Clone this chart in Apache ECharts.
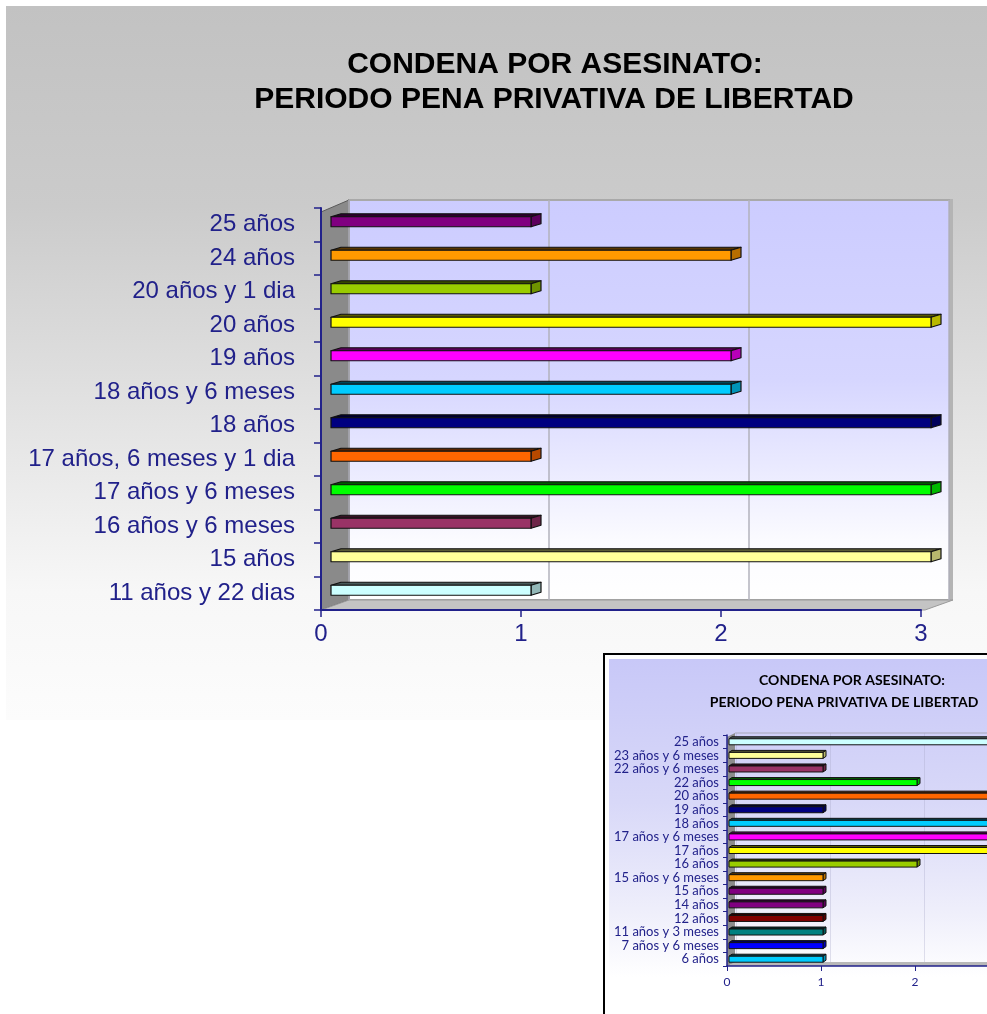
<!DOCTYPE html>
<html>
<head>
<meta charset="utf-8">
<script src="https://cdn.jsdelivr.net/npm/echarts@6/dist/echarts.min.js"></script>
<style>
  html, body { margin: 0; padding: 0; background: #ffffff; }
  #chart { width: 987px; height: 1014px; }
</style>
</head>
<body>
<div id="chart"></div>
<script>
// Main chart: sentence length categories (top to bottom) and number of cases
const mainCategories = [
  '25 años', '24 años', '20 años y 1 dia', '20 años', '19 años',
  '18 años y 6 meses', '18 años', '17 años, 6 meses y 1 dia',
  '17 años y 6 meses', '16 años y 6 meses', '15 años', '11 años y 22 dias'
];
const mainValues = [1, 2, 1, 3, 2, 2, 3, 1, 3, 1, 3, 1];
const mainColors = [
  '#800080', '#ff9900', '#99cc00', '#ffff00', '#ff00ff', '#00ccff',
  '#000080', '#ff6600', '#00ff00', '#993366', '#ffff99', '#ccffff'
];

// Second (smaller) chart
const insetCategories = [
  '25 años', '23 años y 6 meses', '22 años y 6 meses', '22 años', '20 años',
  '19 años', '18 años', '17 años y 6 meses', '17 años', '16 años',
  '15 años y 6 meses', '15 años', '14 años', '12 años', '11 años y 3 meses',
  '7 años y 6 meses', '6 años'
];
const insetValues = [3, 1, 1, 2, 3, 1, 3, 3, 3, 2, 1, 1, 1, 1, 1, 1, 1];
const insetColors = [
  '#ccffff', '#ffff99', '#993366', '#00ff00', '#ff6600', '#000080',
  '#00ccff', '#ff00ff', '#ffff00', '#99cc00', '#ff9900', '#800080',
  '#800080', '#800000', '#008080', '#0000ff', '#00ccff'
];

// Value axis ticks
const valueTicks = [0, 1, 2, 3];

const titleLine1 = 'CONDENA POR ASESINATO:';
const titleLine2 = 'PERIODO PENA PRIVATIVA DE LIBERTAD';

const NAVY = '#21218a';
const AXMIN = valueTicks[0];
const AXMAX = valueTicks[valueTicks.length - 1];
const AXSTEP = valueTicks[1] - valueTicks[0];

function shade(hex, f) {
  const n = parseInt(hex.slice(1), 16);
  const r = Math.round(((n >> 16) & 255) * f);
  const g = Math.round(((n >> 8) & 255) * f);
  const b = Math.round((n & 255) * f);
  return 'rgb(' + r + ',' + g + ',' + b + ')';
}

// Draws a bar as a small 3D box: front face, dark top face, shaded end cap
function makeBar3D(colors, geo) {
  return function (params, api) {
    const idx = api.value(1);
    const v = api.value(0);
    const p0 = api.coord([0, idx]);
    const p1 = api.coord([v, idx]);
    const x0 = p0[0] + geo.shiftX;
    const x1 = p1[0] + geo.shiftX;
    const yc = p0[1] + geo.shiftY;
    const yT = yc - geo.h / 2;
    const yB = yc + geo.h / 2;
    const dx = geo.dx, dy = geo.dy;
    const c = colors[params.dataIndex];
    const line = { stroke: '#111111', lineWidth: geo.lw, lineJoin: 'round' };
    return {
      type: 'group',
      children: [
        { type: 'polygon',
          shape: { points: [[x0, yT], [x0 + dx, yT - dy], [x1 + dx, yT - dy], [x1, yT]] },
          style: Object.assign({ fill: shade(c, 0.35) }, line) },
        { type: 'polygon',
          shape: { points: [[x1, yT], [x1 + dx, yT - dy], [x1 + dx, yB - dy], [x1, yB]] },
          style: Object.assign({ fill: shade(c, 0.72) }, line) },
        { type: 'rect',
          shape: { x: x0, y: yT, width: x1 - x0, height: geo.h },
          style: Object.assign({ fill: c }, line) }
      ]
    };
  };
}

function vgrad(stops) {
  return {
    type: 'linear', x: 0, y: 0, x2: 0, y2: 1,
    colorStops: stops.map(s => ({ offset: s[0], color: s[1] }))
  };
}

const chart = echarts.init(document.getElementById('chart'), null, { renderer: 'canvas' });

const bigTitle = {
  fontFamily: 'Liberation Sans', fontSize: 30, fontWeight: 'bold', color: '#000000'
};
const smallTitle = {
  fontFamily: 'Lato', fontSize: 14, fontWeight: 'bold', color: '#000000'
};

const option = {
  animation: false,
  backgroundColor: '#ffffff',
  title: [
    { text: titleLine1, left: 550, top: 45, textAlign: 'center', textStyle: bigTitle },
    { text: titleLine2, left: 549, top: 80, textAlign: 'center', textStyle: bigTitle },
    { text: titleLine1, left: 847, top: 668, textAlign: 'center', textStyle: smallTitle },
    { text: titleLine2, left: 839, top: 690, textAlign: 'center', textStyle: smallTitle }
  ],
  graphic: {
    elements: [
      // page background of the main chart
      { type: 'rect', z: -5, shape: { x: 6, y: 6, width: 990, height: 714 },
        style: { fill: vgrad([[0, '#c2c2c2'], [0.28, '#cbcbcb'], [0.82, '#f7f7f7'], [1, '#fcfcfc']]) } },
      // main back wall
      { type: 'rect', z: -4, shape: { x: 349, y: 200, width: 601, height: 400 },
        style: { fill: vgrad([[0, '#ccccff'], [0.45, '#d6d6ff'], [0.85, '#fbfbff'], [1, '#ffffff']]),
                 stroke: '#a9a9a9', lineWidth: 2 } },
      // main right edge
      { type: 'polygon', z: -4, shape: { points: [[950, 199], [953, 199], [953, 600], [950, 600]] },
        style: { fill: '#b4b4b4' } },
      // main left wall
      { type: 'polygon', z: -3, shape: { points: [[321, 212], [349, 200], [349, 600], [321, 610]] },
        style: { fill: '#8a8a8a', stroke: '#5a5a5a', lineWidth: 1 } },
      // main floor
      { type: 'polygon', z: -3, shape: { points: [[321, 610], [349, 600], [953, 600], [925, 610]] },
        style: { fill: '#c4c4c4', stroke: '#9a9a9a', lineWidth: 1 } },

      // second chart frame and background
      { type: 'rect', z: -5, shape: { x: 604, y: 654, width: 400, height: 400 },
        style: { fill: '#ffffff', stroke: '#000000', lineWidth: 2 } },
      { type: 'rect', z: -4, shape: { x: 609, y: 659, width: 390, height: 318 },
        style: { fill: vgrad([[0, '#c8c8f8'], [0.45, '#d8d8f8'], [0.8, '#efeffb'], [1, '#ffffff']]) } },
      // second chart back wall top edge
      { type: 'line', z: -3, shape: { x1: 735, y1: 733, x2: 1000, y2: 733 },
        style: { stroke: '#a8a8b8', lineWidth: 1 } },
      // second chart left wall
      { type: 'polygon', z: -3, shape: { points: [[727, 737], [735, 733], [735, 963], [727, 966]] },
        style: { fill: '#8c8c8c' } },
      // second chart floor
      { type: 'polygon', z: -3, shape: { points: [[727, 966], [735, 962], [1000, 962], [1000, 966]] },
        style: { fill: '#b8b8b8' } }
    ]
  },
  grid: [
    { left: 321, top: 208, width: 600, height: 402, outerBoundsMode: 'none' },
    { left: 349, top: 200, width: 600, height: 400, outerBoundsMode: 'none' },
    { left: 727, top: 735, width: 282, height: 231, outerBoundsMode: 'none' },
    { left: 736, top: 733, width: 282, height: 229, outerBoundsMode: 'none' }
  ],
  xAxis: [
    {
      gridIndex: 0, type: 'value', min: AXMIN, max: AXMAX, interval: AXSTEP,
      axisLine: { show: true, lineStyle: { color: NAVY, width: 2 } },
      axisTick: { show: true, length: 7, lineStyle: { color: NAVY, width: 1.5 } },
      axisLabel: { fontFamily: 'Liberation Sans', fontSize: 24, color: NAVY, margin: 12 },
      splitLine: { show: false }
    },
    {
      gridIndex: 1, type: 'value', min: AXMIN, max: AXMAX, interval: AXSTEP,
      axisLine: { show: false }, axisTick: { show: false }, axisLabel: { show: false },
      splitLine: { show: true, lineStyle: { color: '#b2b2bc', width: 1.5 } }
    },
    {
      gridIndex: 2, type: 'value', min: AXMIN, max: AXMAX, interval: AXSTEP,
      axisLine: { show: true, lineStyle: { color: NAVY, width: 1.5 } },
      axisTick: { show: true, length: 5, lineStyle: { color: NAVY, width: 1 } },
      axisLabel: { fontFamily: 'Lato', fontSize: 12, color: NAVY, margin: 10 },
      splitLine: { show: false }
    },
    {
      gridIndex: 3, type: 'value', min: AXMIN, max: AXMAX, interval: AXSTEP,
      axisLine: { show: false }, axisTick: { show: false }, axisLabel: { show: false },
      splitLine: { show: true, lineStyle: { color: 'rgba(170,170,200,0.35)', width: 1 } }
    }
  ],
  yAxis: [
    {
      gridIndex: 0, type: 'category', inverse: true, data: mainCategories,
      axisLine: { show: true, lineStyle: { color: NAVY, width: 2 } },
      axisTick: { show: true, length: 7, lineStyle: { color: NAVY, width: 1.5 } },
      axisLabel: { fontFamily: 'Liberation Sans', fontSize: 24, color: NAVY, margin: 26, interval: 0 },
      splitLine: { show: false }
    },
    { gridIndex: 1, type: 'category', inverse: true, data: mainCategories, show: false },
    {
      gridIndex: 2, type: 'category', inverse: true, data: insetCategories,
      axisLine: { show: true, lineStyle: { color: NAVY, width: 1.5 } },
      axisTick: { show: true, length: 4, interval: 0, lineStyle: { color: NAVY, width: 1 } },
      axisLabel: { fontFamily: 'Lato', fontSize: 13, color: NAVY, margin: 8, interval: 0, hideOverlap: false },
      splitLine: { show: false }
    },
    { gridIndex: 3, type: 'category', inverse: true, data: insetCategories, show: false }
  ],
  series: [
    {
      type: 'custom', name: 'Condenas', xAxisIndex: 0, yAxisIndex: 0, clip: false, z: 5,
      encode: { x: 0, y: 1 },
      data: mainValues.map((v, i) => [v, i]),
      renderItem: makeBar3D(mainColors, { shiftX: 10, shiftY: -3, h: 10, dx: 10, dy: 3, lw: 1.2 })
    },
    {
      type: 'custom', name: 'Condenas (2)', xAxisIndex: 2, yAxisIndex: 2, clip: false, z: 5,
      encode: { x: 0, y: 1 },
      data: insetValues.map((v, i) => [v, i]),
      renderItem: makeBar3D(insetColors, { shiftX: 2, shiftY: 0, h: 6, dx: 3, dy: 2, lw: 1 })
    }
  ]
};

chart.setOption(option);
</script>
</body>
</html>
